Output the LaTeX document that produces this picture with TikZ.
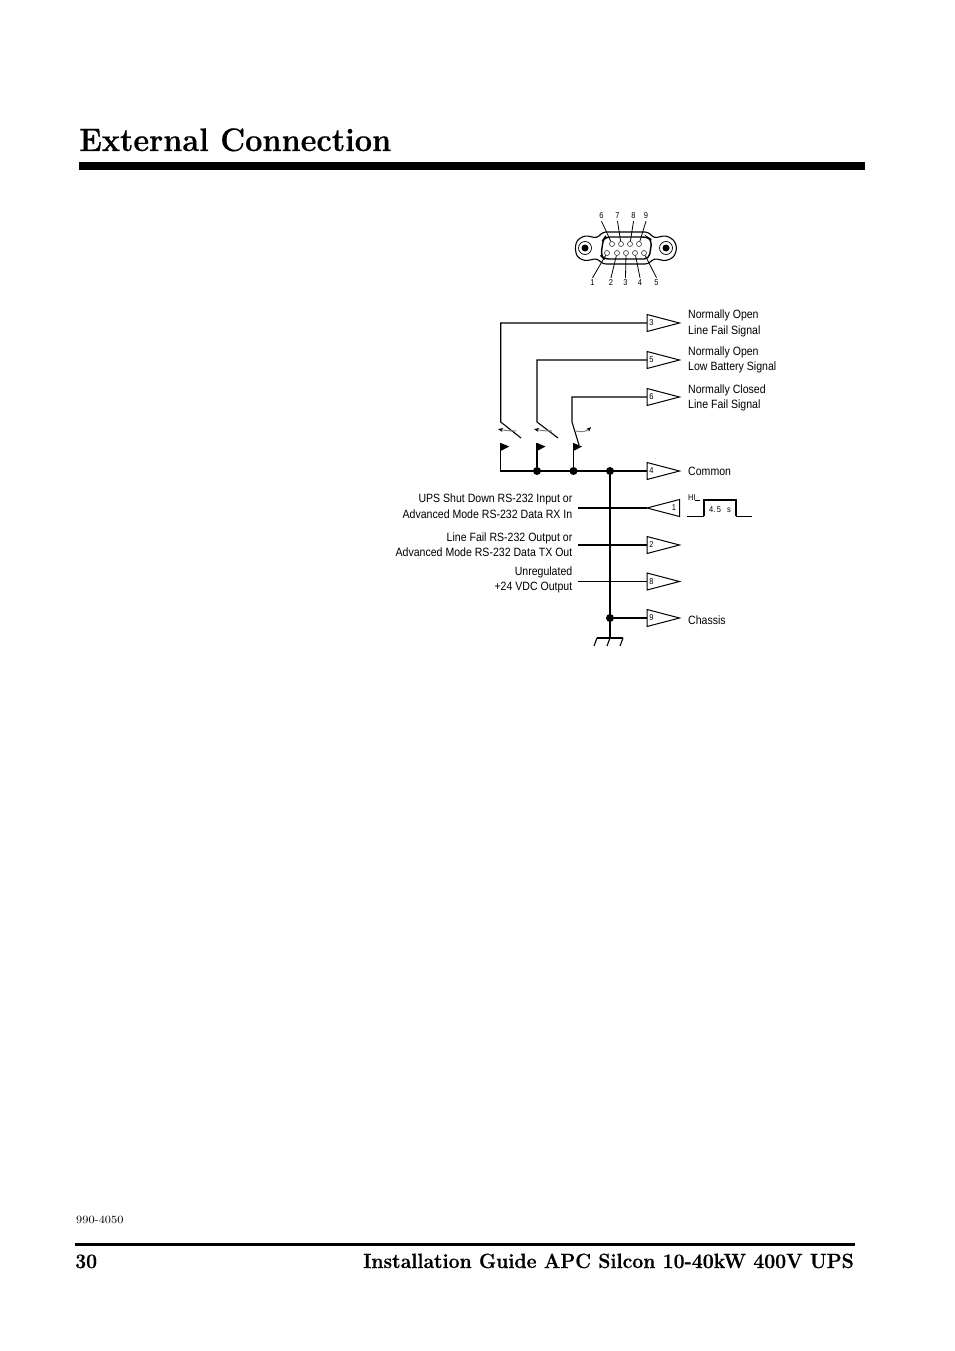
\documentclass[tikz,border=0pt]{standalone}
\usepackage{fontspec}
\newfontfamily\labf[FakeStretch=0.88]{Liberation Sans}
\newfontfamily\headf[BoldFeatures={FakeBold=0.5,FakeStretch=0.943}]{Latin Modern Roman}
\newfontfamily\docf[FakeStretch=1.12]{Latin Modern Roman}
\usetikzlibrary{arrows.meta}
\tikzset{
  wire/.style={line width=1.1pt,black},
  tri/.style={line width=1pt,black,fill=white,line join=miter},
  dot/.style={circle,fill=black,inner sep=0pt,minimum size=8pt},
  lab/.style={font=\labf\fontsize{12}{15}\selectfont,inner sep=0pt,align=left,anchor=west},
  labr/.style={font=\labf\fontsize{12}{15}\selectfont,inner sep=0pt,align=right,anchor=east},
  pinno/.style={font=\labf\fontsize{8.5}{9}\selectfont,inner sep=0pt},
  thin/.style={line width=0.8pt,black},
  pin/.style={circle,draw=black!80,line width=0.6pt,fill=white,inner sep=0pt,minimum size=5pt},
  arr/.style={line width=1pt,black!50,-{Stealth[length=5pt,width=4pt,black]}},
  flag/.style={fill=black,draw=none},
  heads/.style={inner sep=0pt,anchor=base west}
}
\newcommand{\outtri}[3]{% name, y, number
  \draw[tri] (647,#2-8.5) -- (679.5,#2) -- (647,#2+8.5) -- cycle;
  \coordinate (#1) at (647,#2);
  \node[pinno] (#1n) at (651.5,#2) {#3};
}
\begin{document}
\begin{tikzpicture}[x=1pt,y=-1pt]
\useasboundingbox[fill=white] (0,0) rectangle (954,1351);
% page furniture
\node[heads,font=\headf\fontsize{32.5}{36}\selectfont\bfseries] (title) at (79,151) {External Connection};
\fill (79,162) rectangle (865,170);
\fill (75,1243) rectangle (855,1246);
\node[inner sep=0pt,anchor=base west,font=\docf\fontsize{11}{12}\selectfont] (docno) at (76,1223) {990-4050};
\node[heads,font=\headf\fontsize{20.6}{24}\selectfont\bfseries] (pageno) at (75,1268) {30};
\node[inner sep=0pt,anchor=base east,font=\headf\fontsize{20.6}{24}\selectfont\bfseries] (guide) at (854,1268) {Installation Guide APC Silcon 10-40kW 400V UPS};
% D-sub connector
\draw[line width=1.1pt,fill=white,rounded corners=3pt] (603,232) -- (648,232) -- (654,238) -- (666,235.5) -- (674,240) -- (677,248) -- (674,257) -- (666,261) -- (654,258.5) -- (648,264) -- (603,264) -- (597,258.5) -- (585,261) -- (577,257) -- (575,248) -- (577,240) -- (585,235.5) -- (597,238) -- cycle;
\draw[line width=1.4pt,fill=white,rounded corners=5pt] (605,237) -- (647,237) -- (652,240) -- (649,259) -- (604,259) -- (601,256) -- (603,240) -- cycle;
\draw[line width=0.7pt] (585,248) circle (6.5pt);
\fill (585,248) circle (3.5pt);
\draw[line width=0.7pt] (666,248) circle (6.5pt);
\fill (666,248) circle (3.5pt);
\foreach \n/\x/\y in {p6/612/244,p7/621/244,p8/630/244,p9/639/244,p1/607/253,p2/617/253,p3/626/253,p4/635/253,p5/644/253}
  \node[pin] (\n) at (\x,\y) {};
\foreach \n/\x in {6/601.5,7/617.5,8/633.5,9/646}
  \node[pinno] (l\n) at (\x,216) {\n};
\foreach \n/\x in {1/592.5,2/611,3/625.5,4/640,5/656.5}
  \node[pinno] (l\n) at (\x,283) {\n};
\foreach \n in {6,7,8,9} \draw[thin] (l\n.south) ++(0,2) -- (p\n);
\foreach \n in {1,2,3,4,5} \draw[thin] (l\n.north) ++(0,-2) -- (p\n);
% terminals
\outtri{t3}{323}{3}
\outtri{t5}{360}{5}
\outtri{t6}{397}{6}
\outtri{t4}{471}{4}
\outtri{t2}{545}{2}
\outtri{t8}{581.5}{8}
\outtri{t9}{618}{9}
\draw[tri] (679.5,499.5) -- (647,508) -- (679.5,516.5) -- cycle;
\coordinate (t1) at (647,508);
\node[pinno] (t1n) at (674,508) {1};
% wiring
\coordinate (s3t) at (500.7,422);
\coordinate (s3e) at (521,438);
\coordinate (s5t) at (537,422);
\coordinate (s5e) at (558,438);
\coordinate (s6t) at (572,422);
\coordinate (s6e) at (579,445);
\coordinate (busL) at (500.7,471);
\coordinate (f3) at (500.7,443);
\coordinate (f5) at (537,443);
\coordinate (f6) at (573.5,443);
\node[dot] (d5) at (537,471) {};
\node[dot] (d6) at (573.5,471) {};
\node[dot] (d4) at (610,471) {};
\node[dot] (d9) at (610,618) {};
\coordinate (g) at (610,638);
\coordinate (i1) at (578,508);
\coordinate (i2) at (578,545);
\coordinate (i8) at (578,581.5);
\draw[wire,line join=miter] (t3) -- (500.7,323) -- (s3t) -- (s3e);
\draw[wire,line join=miter] (t5) -- (537,360) -- (s5t) -- (s5e);
\draw[wire,line join=miter] (t6) -- (572,397) -- (s6t) -- (s6e);
\draw[wire,line join=miter] (f3) -- (busL) -- (t4);
\draw[wire] (f5) -- (d5);
\draw[wire] (f6) -- (d6);
\draw[wire] (d4) -- (g);
\draw[wire] (i1) -- (t1);
\draw[wire] (i2) -- (t2);
\draw[wire] (i8) -- (t8);
\draw[wire] (d9) -- (t9);
% flags
\foreach \f in {f3,f5,f6}
  \fill[flag] (\f) -- ++(8.5,3.5) -- ++(-8.5,4.5) -- cycle;
% switch motion arrows
\coordinate (a3) at (516,431);
\coordinate (b3) at (498,429);
\coordinate (a5) at (552,431);
\coordinate (b5) at (534,429);
\coordinate (a6) at (576,431);
\coordinate (b6) at (591,427);
\draw[arr] (a3) to[bend left=6] (b3);
\draw[arr] (a5) to[bend left=6] (b5);
\draw[arr] (a6) to[bend right=30] (b6);
% ground
\draw[wire] (597,638) -- (623,638);
\draw[wire] (597,638) -- (594,646);
\draw[wire] (g) -- (607,646);
\draw[wire] (623,638) -- (620,646);
% pulse
\coordinate (pa) at (687,516);
\coordinate (pb) at (752,516);
\draw[line width=0.8pt] (pa) -- (704,516);
\draw[line width=1.3pt,line join=miter] (704,516) -- (704,500) -- (736,500) -- (736,516);
\draw[line width=0.8pt] (736,516) -- (pb);
\draw[line width=0.8pt] (695,500) -- (700,500);
\node[pinno,anchor=west] (hi) at (688,497.5) {HI};
\node[pinno] (dur) at (720,509.5) {4.\,5\ \ \ s};
% labels
\node[lab] (n3) at (688,323.5) {Normally Open\\[1pt]Line Fail Signal};
\node[lab] (n5) at (688,360) {Normally Open\\Low Battery Signal};
\node[lab] (n6) at (688,398) {Normally Closed\\Line Fail Signal};
\node[lab] (n4) at (688,471) {Common};
\node[lab] (n9) at (688,620) {Chassis};
\node[labr] (m1) at (572.5,506) {UPS Shut Down RS-232 Input or\\[1pt]Advanced Mode RS-232 Data RX In};
\node[labr] (m2) at (572.5,544.5) {Line Fail RS-232 Output or\\Advanced Mode RS-232 Data TX Out};
\node[labr] (m8) at (572.5,580) {Unregulated\\+24 VDC Output};
\end{tikzpicture}
\end{document}
